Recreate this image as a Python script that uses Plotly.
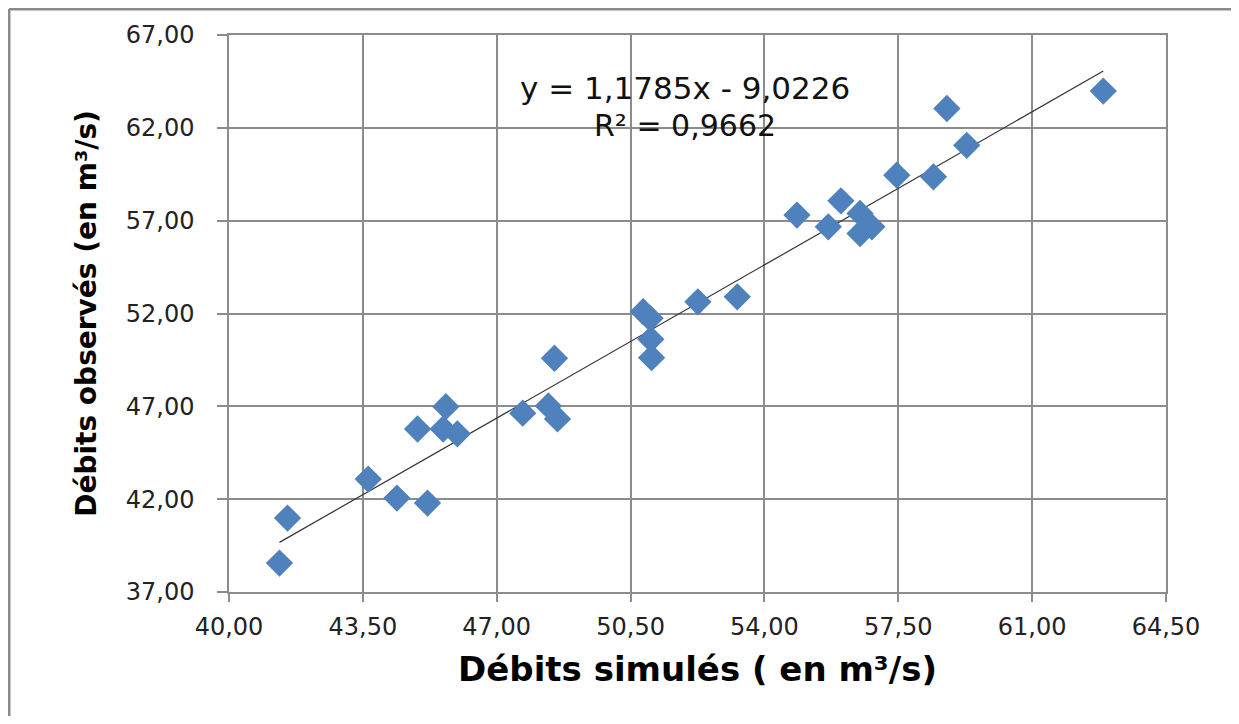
import plotly.graph_objects as go

# Débits simulés (x) and observés (y)
sim = [41.32, 41.53, 43.64, 44.39, 45.19, 44.93, 45.67, 45.60, 45.97, 47.68,
       48.35, 48.59, 48.51, 50.83, 51.01, 51.03, 51.05, 52.26, 53.29, 54.85,
       56.00, 55.67, 56.50, 56.50, 56.81, 57.46, 58.42, 58.77, 59.29, 62.86]
obs = [38.56, 40.98, 43.08, 42.06, 41.79, 45.78, 46.98, 45.78, 45.52, 46.63,
       47.02, 46.32, 49.59, 52.10, 51.74, 50.61, 49.62, 52.63, 52.90, 57.30,
       58.07, 56.67, 57.39, 56.31, 56.67, 59.45, 59.36, 63.04, 61.06, 63.98]

slope = 1.1785
intercept = -9.0226
r2 = 0.9662

x_ticks = [40.0, 43.5, 47.0, 50.5, 54.0, 57.5, 61.0, 64.5]
x_labels = ["40,00", "43,50", "47,00", "50,50", "54,00", "57,50", "61,00", "64,50"]
y_ticks = [37, 42, 47, 52, 57, 62, 67]
y_labels = ["37,00", "42,00", "47,00", "52,00", "57,00", "62,00", "67,00"]

x_title = "Débits simulés ( en m³/s)"
y_title = "Débits observés (en m³/s)"

def fr(v, n):
    return f"{v:.{n}f}".replace(".", ",")

eq_text = f"y = {fr(slope, 4)}x - {fr(-intercept, 4)}"
r2_text = f"R² = {fr(r2, 4)}"

xmin, xmax = min(sim), max(sim)
trend_x = [xmin, xmax]
trend_y = [slope * v + intercept for v in trend_x]

grid = "#8c8c8c"

fig = go.Figure()
fig.add_trace(go.Scatter(
    x=trend_x, y=trend_y, mode="lines",
    line=dict(color="#333333", width=1.2), hoverinfo="skip", showlegend=False))
fig.add_trace(go.Scatter(
    x=sim, y=obs, mode="markers",
    marker=dict(symbol="diamond", size=21, color="#4F81BD", line=dict(width=0)),
    showlegend=False))

fig.add_annotation(x=51.91, y=64.13, xref="x", yref="y", text=eq_text,
                   showarrow=False, font=dict(family="DejaVu Sans", size=31, color="#111111"))
fig.add_annotation(x=51.91, y=62.14, xref="x", yref="y", text=r2_text,
                   showarrow=False, font=dict(family="DejaVu Sans", size=30, color="#111111"))

# outer frame (top and left edges visible)
fig.add_shape(type="line", xref="paper", yref="paper",
              x0=-0.2348, x1=1.2, y0=1.0466, y1=1.0466,
              line=dict(color="#8a8a8a", width=3))
fig.add_shape(type="line", xref="paper", yref="paper",
              x0=-0.2348, x1=-0.2348, y0=1.0466, y1=-0.4,
              line=dict(color="#8a8a8a", width=3))

fig.update_layout(
    width=1223, height=708,
    margin=dict(l=221, r=65, t=27, b=124),
    paper_bgcolor="white", plot_bgcolor="white",
    font=dict(family="DejaVu Sans", color="#222222"),
)
fig.update_xaxes(
    range=[40, 64.5], tickmode="array", tickvals=x_ticks, ticktext=x_labels,
    showgrid=True, gridcolor=grid, gridwidth=1.5,
    showline=True, linecolor=grid, linewidth=1.5, mirror=True,
    ticks="outside", ticklen=8, tickcolor=grid, tickwidth=1.5,
    ticklabelstandoff=4,
    tickfont=dict(family="DejaVu Sans", size=24, color="#222222"),
    title=dict(text=f"<b>{x_title}</b>", standoff=18,
               font=dict(family="DejaVu Sans", size=34, color="#000000")),
    zeroline=False,
)
fig.update_yaxes(
    range=[37, 67], tickmode="array", tickvals=y_ticks, ticktext=y_labels,
    showgrid=True, gridcolor=grid, gridwidth=1.5,
    showline=True, linecolor=grid, linewidth=1.5, mirror=True,
    ticks="outside", ticklen=10, tickcolor=grid, tickwidth=1.5,
    ticklabelstandoff=18,
    tickfont=dict(family="DejaVu Sans", size=24, color="#222222"),
    title=dict(text=f"<b>{y_title}</b>", standoff=21,
               font=dict(family="DejaVu Sans", size=28, color="#000000")),
    zeroline=False,
)

fig.write_html("out.html")
